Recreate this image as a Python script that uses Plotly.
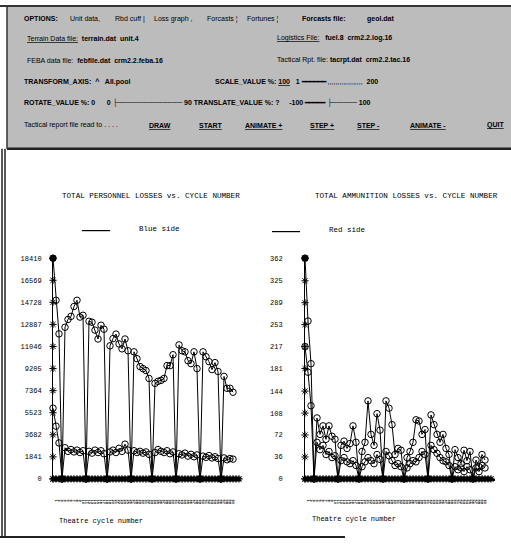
import plotly.graph_objects as go

W, H = 511, 544

# ---------------- data ----------------
cycles = list(range(0, 61))
axis_cycles = list(range(0, 63))
cycle_labels = [str(c) for c in range(1, 61)]

personnel_ticks = [0, 1841, 3682, 5523, 7364, 9205, 11046, 12887, 14728, 16569, 18410]
ammo_ticks = [0, 36, 72, 108, 144, 181, 217, 253, 289, 325, 362]

blue_upper = [18410, 14900, 12100, 0, 12650, 13300, 13560, 14380, 14900, 13500,
              13650, 0, 13150, 13070, 12410, 11670, 12820, 12490, 0, 11100,
              11700, 12080, 11260, 10850, 11670, 10690, 0, 10600, 10030, 9370,
              9200, 9040, 8380, 0, 7970, 8140, 8220, 8380, 9450, 9450,
              10360, 0, 11180, 10690, 10600, 9860, 9620, 10600, 9200, 0,
              10600, 10190, 9780, 9120, 9700, 8960, 0, 8550, 7560, 7560,
              7230]
blue_lower = [5900, 4400, 3000, 0, 2600, 2300, 2450, 2250, 2400, 2200,
              2350, 0, 2300, 2150, 2400, 2200, 2350, 2100, 0, 2250,
              2400, 2200, 2550, 2300, 2900, 2400, 0, 2350, 2200, 2300,
              2150, 2250, 2050, 0, 2200, 2450, 2300, 2200, 2350, 2100,
              2250, 0, 2100, 2000, 2150, 1900, 2050, 1850, 2000, 0,
              1900, 1800, 1950, 1750, 1850, 1700, 0, 1750, 1600, 1700,
              1650]
red_upper = [362, 259, 189, 0, 100, 73, 87, 65, 87, 70,
             65, 0, 55, 62, 50, 58, 87, 60, 0, 45,
             60, 128, 73, 55, 107, 80, 0, 128, 116, 89,
             40, 50, 47, 0, 35, 45, 60, 97, 95, 73,
             81, 0, 105, 89, 73, 60, 73, 50, 40, 0,
             48, 35, 25, 47, 30, 45, 0, 31, 20, 40,
             31]
red_lower = [217, 175, 120, 0, 60, 48, 55, 40, 45, 35,
             38, 0, 30, 35, 28, 25, 30, 22, 0, 20,
             28, 35, 30, 25, 40, 32, 0, 45, 38, 30,
             22, 25, 20, 0, 18, 25, 30, 28, 35, 45,
             40, 0, 55, 48, 42, 35, 30, 28, 22, 0,
             20, 15, 18, 12, 20, 15, 0, 18, 12, 22,
             18]

# ---------------- helpers ----------------
def px(x):
    return x / W

def py(y):
    return 1 - y / H

fig = go.Figure()

def series(xa, ya, vals, first_filled):
    syms = (["circle"] if first_filled else ["circle-open"]) + ["circle-open"] * (len(vals) - 1)
    fig.add_trace(go.Scatter(
        x=cycles, y=vals, xaxis=xa, yaxis=ya, mode="lines+markers",
        line=dict(color="black", width=1),
        marker=dict(symbol=syms, size=6.5, color="black", line=dict(color="black", width=1)),
        cliponaxis=False, showlegend=False, hoverinfo="skip"))

def axis_marks(xa, ya, ticks):
    fig.add_trace(go.Scatter(
        x=[0] * len(ticks), y=ticks, xaxis=xa, yaxis=ya, mode="markers",
        marker=dict(symbol="asterisk-open", size=6, color="black", line=dict(color="black", width=1)),
        cliponaxis=False, showlegend=False, hoverinfo="skip"))
    fig.add_trace(go.Scatter(
        x=axis_cycles, y=[0] * len(axis_cycles), xaxis=xa, yaxis=ya, mode="markers",
        marker=dict(symbol="asterisk-open", size=6, color="black", line=dict(color="black", width=1.2)),
        cliponaxis=False, showlegend=False, hoverinfo="skip"))

series("x", "y", blue_upper, True)
series("x", "y", blue_lower, False)
axis_marks("x", "y", personnel_ticks)
series("x2", "y2", red_upper, True)
series("x2", "y2", red_lower, False)
axis_marks("x2", "y2", ammo_ticks)

ydom = [py(482), py(258)]
tickfont = dict(family="Liberation Mono", size=7, color="black")
xtickfont = dict(family="DejaVu Sans", size=3.2, color="black", weight="bold")

fig.update_layout(
    width=W, height=H, margin=dict(l=0, r=0, t=0, b=0),
    paper_bgcolor="white", plot_bgcolor="rgba(0,0,0,0)",
    xaxis=dict(domain=[px(53), px(240)], range=[0, 62.33], showgrid=False, zeroline=False,
               showline=True, linecolor="black", linewidth=2,
               tickmode="array", tickvals=list(range(1, 61)), ticktext=cycle_labels,
               tickangle=90, ticks="", tickfont=xtickfont, ticklabelstandoff=18),
    yaxis=dict(domain=ydom, range=[0, 18410], showgrid=False, zeroline=False,
               showline=True, linecolor="black", linewidth=1,
               tickmode="array", tickvals=personnel_ticks,
               ticktext=[str(t) for t in personnel_ticks], ticks="", tickfont=tickfont,
               ticklabelstandoff=9),
    xaxis2=dict(domain=[px(305), px(495)], range=[0, 63.33], anchor="y2", showgrid=False, zeroline=False,
                showline=True, linecolor="black", linewidth=2,
                tickmode="array", tickvals=list(range(1, 61)), ticktext=cycle_labels,
                tickangle=90, ticks="", tickfont=xtickfont, ticklabelstandoff=18),
    yaxis2=dict(domain=ydom, range=[0, 362], anchor="x2", showgrid=False, zeroline=False,
                showline=True, linecolor="black", linewidth=1,
                tickmode="array", tickvals=ammo_ticks,
                ticktext=[str(t) for t in ammo_ticks], ticks="", tickfont=tickfont,
                ticklabelstandoff=20),
)

shapes = []
annos = []

def rect(x0, y0, x1, y1, fill, lw=0, lc="black"):
    shapes.append(dict(type="rect", xref="paper", yref="paper", x0=px(x0), x1=px(x1),
                       y0=py(y1), y1=py(y0), fillcolor=fill, line=dict(width=lw, color=lc), layer="below"))

def hline(x0, x1, y, w=1, c="black"):
    shapes.append(dict(type="line", xref="paper", yref="paper", x0=px(x0), x1=px(x1),
                       y0=py(y), y1=py(y), line=dict(width=w, color=c)))

def vline(x, y0, y1, w=1, c="black"):
    shapes.append(dict(type="line", xref="paper", yref="paper", x0=px(x), x1=px(x),
                       y0=py(y0), y1=py(y1), line=dict(width=w, color=c)))

def text(x, y, s, size=7, fam="Liberation Sans", anchor="left", color="black"):
    annos.append(dict(xref="paper", yref="paper", x=px(x), y=py(y), text=s, showarrow=False,
                      xanchor=anchor, yanchor="middle", font=dict(family=fam, size=size, color=color)))

# top control panel (stippled grey)
rect(7, 3, 511, 147, "#bcbcbc")
hline(0, 511, 2, 2, "#333")
hline(7, 511, 147, 2.5, "#222")
vline(7, 3, 147, 1.5, "#333")
# frame of the graph area
vline(2, 147, 542, 1.5, "#222")
vline(5, 147, 542, 1.5, "#222")
hline(0, 345, 541, 2, "#222")

# row 1
text(22, 15, "<b>OPTIONS:</b>", 7)
text(68, 15, "Unit data,", 7)
text(113, 15, "Rbd cuff |", 7)
text(152, 15, "Loss graph ,", 7)
text(205, 15, "Forcasts ¦", 7)
text(245, 15, "Fortunes ¦", 7)
text(300, 15, "<b>Forcasts file:</b>", 7)
text(365, 15, "<b>geol.dat</b>", 7)
# row 2
text(25, 35, "<u>Terrain Data file:</u>  <b>terrain.dat  unit.4</b>", 7)
text(275, 35, "<u>Logistics File:</u>   <b>fuel.8  crm2.2.log.16</b>", 7)
# row 3
text(25, 57, "FEBA data file:  <b>febfile.dat  crm2.2.feba.16</b>", 7)
text(275, 57, "Tactical Rpt. file: <b>tacrpt.dat  crm2.2.tac.16</b>", 7)
# row 4
text(22, 79, "<b>TRANSFORM_AXIS:  ^   All.pool</b>", 7)
text(213, 79, "<b>SCALE_VALUE %: <u>100</u>   1 ━━━━━━</b> ,,,,,,,,,,,,,,,,,,  <b>200</b>", 7)
# row 5
text(22, 100, "<b>ROTATE_VALUE %: 0</b>      <b>0 ├───────────── 90 TRANSLATE_VALUE %: ?</b>     <b>-100 ━━━━━ ├───── 100</b>", 7)
# row 6
text(22, 123, "Tactical report file read to . . . .", 7)
for xx, lab in [(147, "DRAW"), (197, "START"), (243, "ANIMATE +"), (308, "STEP +"),
                (355, "STEP -"), (408, "ANIMATE -"), (485, "QUIT")]:
    text(xx, 123, "<b><u>" + lab + "</u></b>", 7)

# chart titles / legends / axis titles
mono = "Liberation Mono"
text(151, 195, "TOTAL PERSONNEL LOSSES vs. CYCLE NUMBER", 7.6, mono, "center")
text(406, 195, "TOTAL AMMUNITION LOSSES vs. CYCLE NUMBER", 7.6, mono, "center")
hline(82, 110, 230, 1.2)
text(137, 228, "Blue side", 7.5, mono)
hline(272, 300, 231, 1.2)
text(327, 229, "Red side", 7.5, mono)
text(101, 525, "Theatre cycle number", 7, mono, "center")
text(354, 523, "Theatre cycle number", 7, mono, "center")

fig.update_layout(shapes=shapes, annotations=annos)
fig.write_html("out.html")
